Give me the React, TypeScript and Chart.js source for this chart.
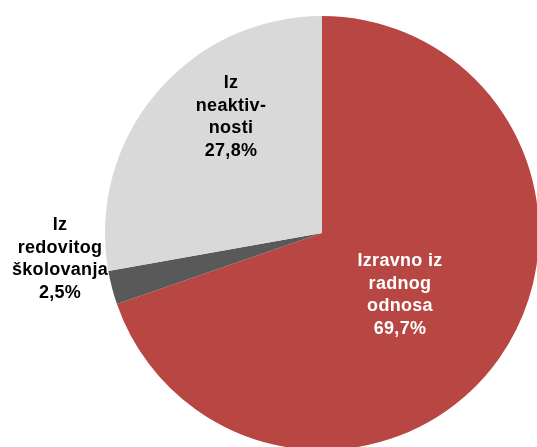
import React, { useEffect, useRef } from "react";
import { Chart, registerables } from "chart.js";

Chart.register(...registerables);

const categories = ["Izravno iz radnog odnosa", "Iz redovitog školovanja", "Iz neaktivnosti"];
const values = [69.7, 2.5, 27.8];
const colors = ["#B84642", "#595959", "#D9D9D9"];
const labelLines = [
  ["Izravno iz", "radnog", "odnosa", "69,7%"],
  ["Iz", "redovitog", "školovanja", "2,5%"],
  ["Iz", "neaktiv-", "nosti", "27,8%"],
];
const labelColors = ["#FFFFFF", "#000000", "#000000"];
// label anchor offsets relative to pie centre (layout)
const labelOffsets = [
  [78, 62],
  [-262, 26],
  [-91, -116],
];

const labelPlugin = {
  id: "sliceLabels",
  afterDraw(chart: any) {
    const ctx = chart.ctx;
    const arc = chart.getDatasetMeta(0).data[0];
    const cx = arc.x;
    const cy = arc.y;
    ctx.save();
    ctx.font = "bold 18px 'Liberation Sans', Arial, sans-serif";
    try {
      (ctx as any).letterSpacing = "0.3px";
    } catch (e) {}
    ctx.textAlign = "center";
    ctx.textBaseline = "middle";
    const lh = 22.5;
    labelLines.forEach((lines, i) => {
      const [ox, oy] = labelOffsets[i];
      ctx.fillStyle = labelColors[i];
      const start = cy + oy - ((lines.length - 1) * lh) / 2;
      lines.forEach((t, j) => {
        ctx.fillText(t, cx + ox, start + j * lh);
      });
    });
    ctx.restore();
  },
};

export default function App() {
  const ref = useRef<HTMLCanvasElement | null>(null);
  useEffect(() => {
    const canvas = ref.current!;
    const chart = new Chart(canvas, {
      type: "pie",
      data: {
        labels: categories,
        datasets: [
          {
            data: values,
            backgroundColor: colors,
            borderWidth: 0,
          },
        ],
      },
      options: {
        responsive: false,
        animation: false,
        devicePixelRatio: 1,
        layout: { padding: 16 },
        plugins: {
          legend: { display: false },
          tooltip: { enabled: false },
        },
      },
      plugins: [labelPlugin],
    });
    return () => chart.destroy();
  }, []);
  return (
    <div
      style={{
        position: "fixed",
        left: 0,
        top: 0,
        width: 537,
        height: 447,
        overflow: "hidden",
        background: "#fff",
      }}
    >
      <canvas
        ref={ref}
        width={644}
        height={466}
        style={{ position: "absolute", left: 0, top: 0, width: 644, height: 466 }}
      />
    </div>
  );
}
